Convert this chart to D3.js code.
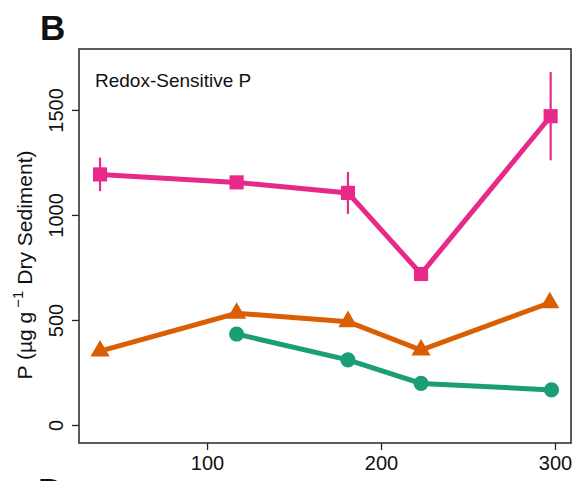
<!DOCTYPE html>
<html>
  <head>
    <meta charset="utf-8" />
    <script src="https://cdn.jsdelivr.net/npm/d3@7"></script>
    <style>
        body { margin: 0; background: #fff; }
        text { font-family: Arial, "Liberation Sans", sans-serif; fill: #111; }
    </style>
  </head>
  <body>
    <svg width="573" height="481"></svg>

    <script type="text/javascript">
        // depth (x) and redox-sensitive P (y) for each series
        var xPink = [38.5, 117, 181, 223, 297.5];
        var yPink = [1193, 1155, 1105, 719, 1470];
        var ePink = [80, 20, 100, 20, 210];

        var xOrange = [38.5, 117, 181, 223, 297];
        var yOrange = [352, 532, 492, 357, 582];
        var eOrange = [10, 15, 15, 10, 15];

        var xGreen = [117, 181, 223, 298];
        var yGreen = [433, 310, 198, 167];
        var eGreen = [10, 10, 10, 10];

        var xTicks = [100, 200, 300];
        var yTicks = [0, 500, 1000, 1500];

        var colPink = "#e7298a", colOrange = "#d95f02", colGreen = "#1b9e77";

        var pLeft = 79, pRight = 571, pTop = 49, pBottom = 443;

        var svg = d3.select("svg");

        var x = d3.scaleLinear().domain([26.4, 309.2]).range([pLeft, pRight]);
        var y = d3.scaleLinear().domain([-85.7, 1790]).range([pBottom, pTop]);

        // panel letters
        svg.append("text")
            .attr("x", 40).attr("y", 40)
            .style("font-size", "35px").style("font-weight", "bold")
            .text("B");
        svg.append("text")
            .attr("x", 38).attr("y", 503)
            .style("font-size", "35px").style("font-weight", "bold")
            .text("D");

        // axes
        var xAxis = svg.append("g")
            .attr("transform", "translate(0," + pBottom + ")")
            .call(d3.axisBottom(x).tickValues(xTicks).tickFormat(d3.format("d")).tickSize(7).tickSizeOuter(0));
        xAxis.select(".domain").remove();
        xAxis.selectAll("line").attr("stroke", "#222").attr("stroke-width", 1.3);
        xAxis.selectAll("text")
            .attr("y", 13).attr("dy", "0.71em")
            .style("font-size", "20px").attr("fill", "#222");

        var yAxis = svg.append("g")
            .attr("transform", "translate(" + pLeft + ",0)")
            .call(d3.axisLeft(y).tickValues(yTicks).tickFormat(d3.format("d")).tickSize(7).tickSizeOuter(0));
        yAxis.select(".domain").remove();
        yAxis.selectAll("line").attr("stroke", "#222").attr("stroke-width", 1.3);
        yAxis.selectAll("text")
            .attr("x", 0).attr("y", 0).attr("dy", 0)
            .attr("transform", "translate(-16,0) rotate(-90)")
            .attr("text-anchor", "middle")
            .style("font-size", "20px").attr("fill", "#222");

        // box
        svg.append("rect")
            .attr("x", pLeft).attr("y", pTop)
            .attr("width", pRight - pLeft).attr("height", pBottom - pTop)
            .attr("fill", "none").attr("stroke", "#333").attr("stroke-width", 1.6);

        // y title
        var yt = svg.append("text")
            .attr("transform", "translate(32,265) rotate(-90)")
            .attr("text-anchor", "middle")
            .style("font-size", "21px").attr("fill", "#222");
        yt.append("tspan").text("P (µg g");
        yt.append("tspan").attr("dy", -9).attr("dx", 4).style("font-size", "15px").text("\u22121");
        yt.append("tspan").attr("dy", 9).attr("dx", 6).text("Dry Sediment)");

        svg.append("text")
            .attr("x", 95).attr("y", 87)
            .style("font-size", "19px")
            .text("Redox-Sensitive P");

        function drawSeries(xs, ys, es, col, sym, size) {
            var pts = xs.map(function(d, i) { return [d, ys[i], es[i]]; });
            var g = svg.append("g");
            g.selectAll("line.err")
                .data(pts)
                .enter()
                .append("line")
                .attr("class", "err")
                .attr("x1", function(d) { return x(d[0]); })
                .attr("x2", function(d) { return x(d[0]); })
                .attr("y1", function(d) { return y(d[1] - d[2]); })
                .attr("y2", function(d) { return y(d[1] + d[2]); })
                .attr("stroke", col).attr("stroke-width", 2.2);
            g.append("path")
                .datum(pts)
                .attr("fill", "none")
                .attr("stroke", col)
                .attr("stroke-width", 5)
                .attr("d", d3.line().x(function(d) { return x(d[0]); }).y(function(d) { return y(d[1]); }));
            g.selectAll("path.pt")
                .data(pts)
                .enter()
                .append("path")
                .attr("class", "pt")
                .attr("transform", function(d) { return "translate(" + x(d[0]) + "," + y(d[1]) + ")"; })
                .attr("d", d3.symbol().type(sym).size(size))
                .attr("fill", col);
        }

        drawSeries(xPink, yPink, ePink, colPink, d3.symbolSquare, 200);
        drawSeries(xOrange, yOrange, eOrange, colOrange, d3.symbolTriangle, 160);
        drawSeries(xGreen, yGreen, eGreen, colGreen, d3.symbolCircle, 180);
    </script>
  </body>
</html>
